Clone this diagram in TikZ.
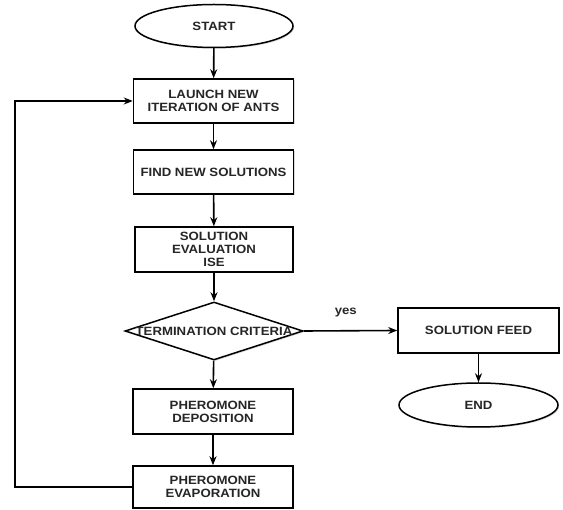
\documentclass[tikz,border=0pt]{standalone}
\usepackage{fontspec}
\setmainfont{Liberation Sans}[FakeStretch=1.1]
\usetikzlibrary{shapes.geometric,arrows.meta,shadows}
\begin{document}
\begin{tikzpicture}[x=1pt,y=-1pt,
  txt/.style={font=\fontsize{12}{12.8}\selectfont\bfseries, text=black!85, align=center},
  shad/.style={drop shadow={shadow xshift=1.2pt, shadow yshift=-1.2pt, opacity=0.25, fill=black!60}},
  stepbox/.style={draw, line width=1.5pt, rectangle, fill=white, shad, minimum width=160pt, minimum height=44pt, inner sep=0pt, txt},
  term/.style={draw, line width=1.5pt, ellipse, fill=white, shad, minimum width=158pt, minimum height=43pt, inner sep=0pt, txt},
  flow/.style={line width=1.6pt, -{Stealth[length=9pt,width=7pt]}}]
\useasboundingbox (0,0) rectangle (563,510);
\node[term] (start) at (214,26) {START};
\node[stepbox] (launch) at (213.5,101) {LAUNCH NEW\\ITERATION OF ANTS};
\node[stepbox] (find) at (213.5,172) {FIND NEW SOLUTIONS};
\node[stepbox, minimum width=158pt, minimum height=45pt] (eval) at (214,249.5) {SOLUTION\\EVALUATION\\ISE};
\node[draw, line width=1.5pt, diamond, fill=white, shad, minimum width=178pt, minimum height=58pt, inner sep=0pt] (crit) at (214,331) {};
\node[txt] (critt) at (crit.center) {TERMINATION CRITERIA};
\node[stepbox, minimum width=161pt, minimum height=45pt] (feed) at (478.5,330.5) {SOLUTION FEED};
\node[term, minimum width=159pt, minimum height=44pt] (end) at (478.5,405) {END};
\node[stepbox, minimum height=45pt] (dep) at (213,411.5) {PHEROMONE\\DEPOSITION};
\node[stepbox, minimum height=42pt] (evap) at (213,487) {PHEROMONE\\EVAPORATION};
\coordinate (lb) at (15,487);
\coordinate (lt) at (15,101);
\draw[flow] (start) -- (launch);
\draw[flow] (launch) -- (find);
\draw[flow] (find) -- (eval);
\draw[flow] (eval) -- (crit);
\draw[flow] (crit) -- (dep);
\draw[flow] (dep) -- (evap);
\draw[flow] (crit.east) -- node[txt, above=10pt, pos=0.45] (yes) {yes} (feed.west);
\draw[flow] (feed) -- (end);
\draw[flow] (evap.west) -- (lb) -- (lt) -- (launch.west);
\end{tikzpicture}
\end{document}
